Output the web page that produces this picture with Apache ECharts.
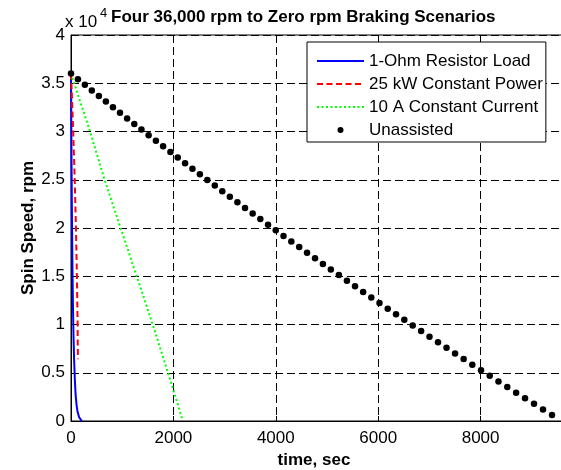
<!DOCTYPE html>
<html>
<head>
<meta charset="utf-8">
<script src="https://cdn.jsdelivr.net/npm/echarts@6/dist/echarts.min.js"></script>
<style>
  html, body { margin: 0; padding: 0; background: #fff; }
  #chart { width: 561px; height: 470px; }
</style>
</head>
<body>
<div id="chart"></div>
<script>
// data (time in sec, speed in rpm)
const resistorTime = [0, 10, 20, 30, 40, 50, 60, 75, 90, 110, 130, 160, 190, 215];
const resistorRpm = [36000, 27000, 20300, 15200, 11400, 8600, 6500, 4300, 2700, 1600, 900, 380, 150, 0];

const powerTime = [0, 15, 29, 43, 55, 67, 77, 87, 96, 104, 112, 118, 124, 129, 132, 135];
const powerRpm = [36000, 34000, 32000, 30000, 28000, 26000, 24000, 22000, 20000, 18000, 16000, 14000, 12000, 10000, 8000, 6400];

const currentTime = [0, 360, 656, 982, 1309, 1633, 1939, 2168];
const currentRpm = [36000, 30200, 25000, 19800, 14600, 9400, 4250, 300];

const unassistedTime = [
  0, 135, 271, 407, 544, 681, 819, 957, 1096, 1236, 1376, 1516, 1658, 1799, 1942, 2085,
  2228, 2372, 2517, 2662, 2809, 2955, 3102, 3250, 3399, 3548, 3698, 3848, 3999, 4151, 4303,
  4457, 4610, 4766, 4920, 5075, 5232, 5389, 5547, 5706, 5865, 6025, 6186, 6348, 6510, 6674,
  6838, 7002, 7168, 7334, 7501, 7669, 7838, 8008, 8178, 8349, 8521, 8694, 8868, 9043, 9219, 9395
];
const unassistedRpm = [
  36000, 35420, 34840, 34260, 33680, 33100, 32520, 31940, 31360, 30780, 30200, 29620, 29040,
  28460, 27880, 27300, 26720, 26140, 25560, 24980, 24400, 23820, 23240, 22660, 22080, 21500,
  20920, 20340, 19760, 19180, 18600, 18020, 17440, 16860, 16280, 15700, 15120, 14540, 13960,
  13380, 12800, 12220, 11640, 11060, 10480, 9900, 9320, 8740, 8160, 7580, 7000, 6420, 5840,
  5260, 4680, 4100, 3520, 2940, 2360, 1780, 1200, 620
];

const seriesNames = ["1-Ohm Resistor Load", "25 kW Constant Power", "10 A Constant Current", "Unassisted"];

const zip = (xs, ys) => xs.map((x, i) => [x, ys[i]]);
const FONT = "Liberation Sans, Arial, Helvetica, sans-serif";

const chart = echarts.init(document.getElementById("chart"), null, { renderer: "canvas" });

// line entries in the legend: no marker, only the line sample
const legendData = seriesNames.map((name, i) =>
  i < 3 ? { name, itemStyle: { opacity: 0 } } : { name }
);

chart.setOption({
  animation: false,
  backgroundColor: "#fff",
  textStyle: { fontFamily: FONT, color: "#000" },
  title: [
    {
      text: "Four 36,000 rpm to Zero rpm Braking Scenarios",
      left: 111,
      top: 9,
      padding: 0,
      textStyle: { fontFamily: FONT, fontSize: 17, fontWeight: "bold", color: "#000" },
    },
    {
      text: "x 10",
      left: 65,
      top: 14,
      padding: 0,
      textStyle: { fontFamily: FONT, fontSize: 17, fontWeight: "normal", color: "#000" },
    },
    {
      text: "4",
      left: 100,
      top: 7,
      padding: 0,
      textStyle: { fontFamily: FONT, fontSize: 13, fontWeight: "normal", color: "#000" },
    },
  ],
  legend: {
    orient: "vertical",
    left: 307,
    top: 42,
    padding: [9, 3, 2, 9],
    itemWidth: 47,
    itemHeight: 6,
    itemGap: 3,
    backgroundColor: "#fff",
    borderColor: "#000",
    borderWidth: 1,
    borderRadius: 0,
    textStyle: { fontFamily: FONT, fontSize: 17, color: "#000", lineHeight: 20 },
    data: legendData,
  },
  grid: {
    left: 71,
    top: 35,
    width: 512,
    height: 386,
    show: true,
    borderColor: "#000",
    borderWidth: 1,
    outerBoundsMode: "none",
  },
  xAxis: {
    type: "value",
    min: 0,
    max: 10000,
    interval: 2000,
    name: "time, sec",
    nameLocation: "middle",
    nameGap: 29,
    nameTextStyle: { fontFamily: FONT, fontSize: 17, fontWeight: "bold", color: "#000", padding: [0, 26, 0, 0] },
    axisLine: { show: true, lineStyle: { color: "#000", width: 1 } },
    axisTick: { show: true, inside: true, length: 5, lineStyle: { color: "#000" } },
    axisLabel: {
      color: "#000",
      fontFamily: FONT,
      fontSize: 17,
      margin: 9,
      showMaxLabel: false,
      formatter: (v) => String(v),
    },
    splitLine: { show: true, lineStyle: { color: "#000", width: 1, type: [8, 4] } },
  },
  yAxis: {
    type: "value",
    min: 0,
    max: 40000,
    interval: 5000,
    name: "Spin Speed, rpm",
    nameLocation: "middle",
    nameGap: 34,
    nameMoveOverlap: false,
    nameTextStyle: { fontFamily: FONT, fontSize: 17, fontWeight: "bold", color: "#000" },
    axisLine: { show: true, lineStyle: { color: "#000", width: 1 } },
    axisTick: { show: true, inside: true, length: 5, lineStyle: { color: "#000" } },
    axisLabel: {
      color: "#000",
      fontFamily: FONT,
      fontSize: 17,
      margin: 6,
      formatter: (v) => String(v / 10000),
    },
    splitLine: { show: true, lineStyle: { color: "#000", width: 1, type: [8, 4] } },
  },
  series: [
    {
      name: seriesNames[0],
      type: "line",
      data: zip(resistorTime, resistorRpm),
      symbol: "none",
      lineStyle: { color: "#0000ff", width: 2 },
      itemStyle: { color: "#0000ff" },
      z: 3,
    },
    {
      name: seriesNames[1],
      type: "line",
      data: zip(powerTime, powerRpm),
      symbol: "none",
      lineStyle: { color: "#ff0000", width: 2, type: [6, 3.5] },
      itemStyle: { color: "#ff0000" },
      z: 4,
    },
    {
      name: seriesNames[2],
      type: "line",
      data: zip(currentTime, currentRpm),
      symbol: "none",
      lineStyle: { color: "#00ff00", width: 2, type: [2, 2.5] },
      itemStyle: { color: "#00ff00" },
      z: 5,
    },
    {
      name: seriesNames[3],
      type: "scatter",
      data: zip(unassistedTime, unassistedRpm),
      symbol: "circle",
      symbolSize: 6.5,
      itemStyle: { color: "#000", opacity: 1 },
      z: 6,
    },
  ],
});
</script>
</body>
</html>
